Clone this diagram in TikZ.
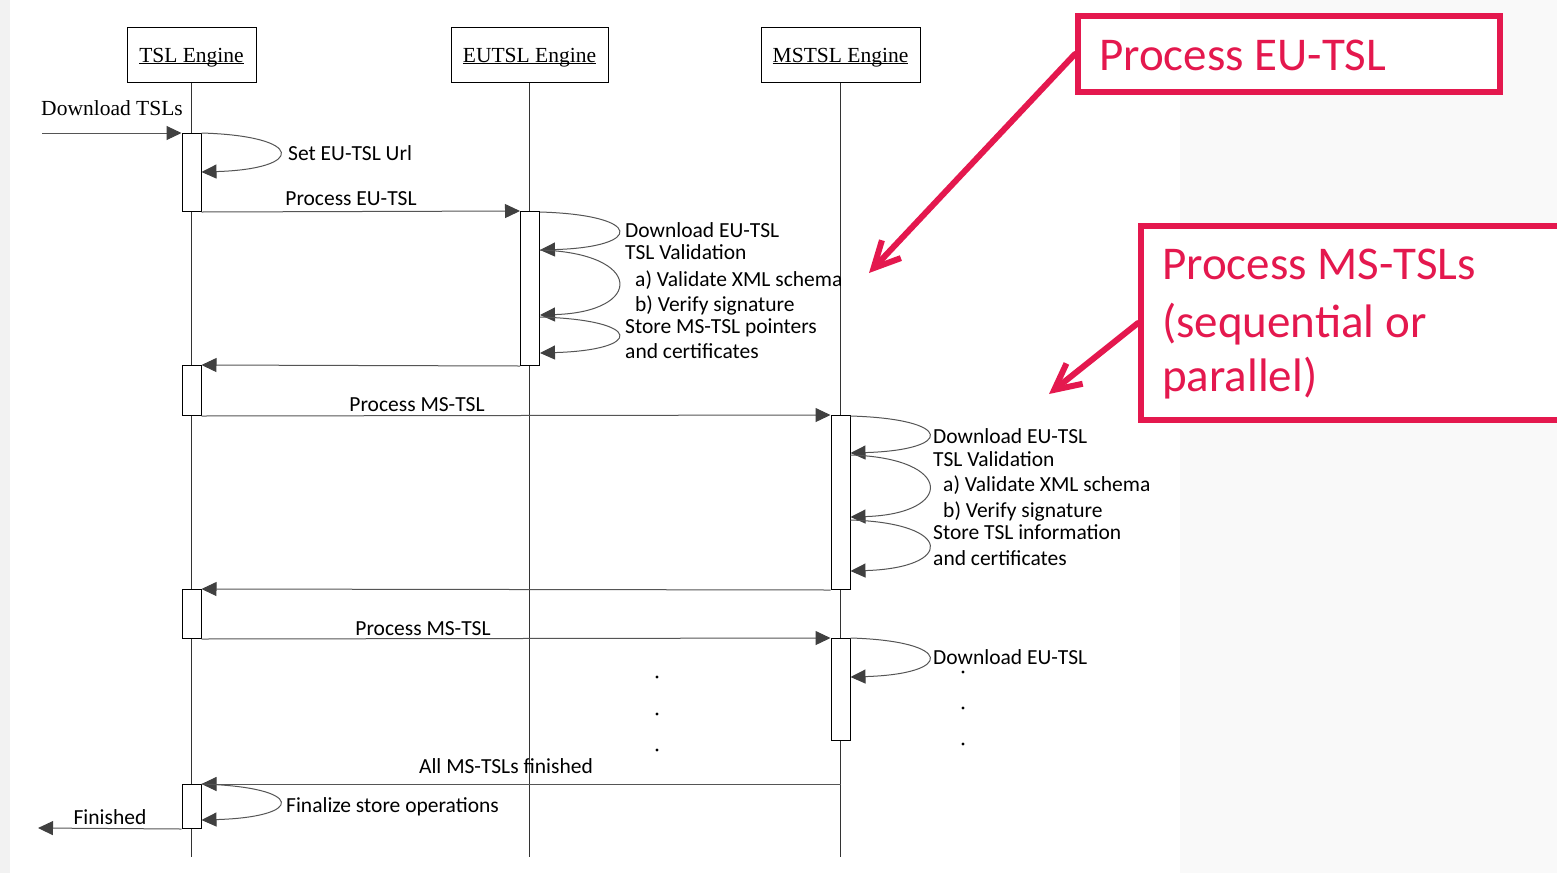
\documentclass[tikz,border=0pt]{standalone}
\usepackage{fontspec}
\setmainfont{Carlito}
\newfontfamily\serifface{Liberation Serif}
\usetikzlibrary{arrows.meta}
\definecolor{hl}{RGB}{228,24,78}
\definecolor{wire}{RGB}{85,85,85}
\definecolor{tipc}{RGB}{64,64,64}
\definecolor{panel}{RGB}{249,249,249}
\definecolor{edgestrip}{RGB}{242,242,242}

\begin{document}
\begin{tikzpicture}[x=1pt,y=-1pt,
  head/.style={draw=black, line width=1pt, fill=white, inner sep=0, text height=17pt, text depth=2pt,
    font=\serifface\fontsize{21.5pt}{24pt}\selectfont},
  act/.style={draw=black, line width=1pt, fill=white, minimum width=19pt, inner sep=0, anchor=north},
  life/.style={draw=black!80, line width=1pt},
  msg/.style={draw=wire, line width=1pt, -{Triangle[length=15pt,width=14pt,color=tipc]}},
  lbl/.style={inner sep=0, anchor=base west, font=\fontsize{21.5pt}{26pt}\selectfont},
  mlbl/.style={inner sep=0, anchor=base, font=\fontsize{21.5pt}{26pt}\selectfont},
  redbox/.style={draw=hl, line width=6pt, fill=white, inner sep=0},
  redtxt/.style={text=hl, inner sep=0, anchor=base west, font=\fontsize{47pt}{56pt}\selectfont},
  callout/.style={draw=hl, line width=6pt, line cap=round, -{Straight Barb[length=26pt,width=26pt]}}
]
% page and background panels
\fill[white] (0,0) rectangle (1557,873);
\fill[panel] (1180,0) rectangle (1557,873);
\fill[edgestrip] (0,0) rectangle (10,873);
\useasboundingbox (0,0) rectangle (1557,873);

% participants
\node[head, minimum width=129pt, minimum height=55pt] (tsl) at (191.5,54.5) {\underline{\smash{TSL Engine}}};
\node[head, minimum width=157pt, minimum height=55pt] (eu) at (529.5,54.5) {\underline{\smash{EUTSL Engine}}};
\node[head, minimum width=159pt, minimum height=55pt] (ms) at (840.5,54.5) {\underline{\smash{MSTSL Engine}}};

% lifelines
\coordinate (bottom) at (0,857);
\draw[life] (tsl.south) -- (tsl.south |- bottom);
\draw[life] (eu.south) -- (eu.south |- bottom);
\draw[life] (ms.south) -- (ms.south |- bottom);

% activations
\node[act, minimum height=78pt] (t1) at (191.5,133) {};
\node[act, minimum height=154pt] (e1) at (530,211) {};
\node[act, minimum height=50pt] (t2) at (191.5,365) {};
\node[act, minimum height=174pt] (m1) at (840.5,415) {};
\node[act, minimum height=49pt] (t3) at (191.5,589) {};
\node[act, minimum height=102pt] (m2) at (840.5,638) {};
\node[act, minimum height=44pt] (t4) at (191.5,784) {};

% incoming request
\coordinate (src) at (42,133);
\draw[msg] (src) -- (t1.north west);
\node[inner sep=0, anchor=base, font=\serifface\fontsize{21.5pt}{24pt}\selectfont] at (112,115) {Download TSLs};

% set EU-TSL URL
\draw[msg] (t1.north east) .. controls +(104,3) and +(104,-3) .. ([yshift=-39pt]t1.north east);
\node[lbl] at (288,160) {Set EU-TSL Url};

% EU-TSL processing
\draw[msg] (t1.south east) -- (e1.north west);
\node[mlbl] at (351,205) {Process EU-TSL};
\draw[msg] ([yshift=-1pt]e1.north east) .. controls +(104,3) and +(104,-3) .. ([yshift=-39pt]e1.north east);
\draw[msg] ([yshift=-39pt]e1.north east) .. controls +(104,3) and +(104,-3) .. ([yshift=-104pt]e1.north east);
\draw[msg] ([yshift=-106pt]e1.north east) .. controls +(104,3) and +(104,-3) .. ([yshift=-142pt]e1.north east);
\node[lbl] at (625,237) {Download EU-TSL};
\node[lbl] at (625,259) {TSL Validation};
\node[lbl] at (635,286) {a) Validate XML schema};
\node[lbl] at (635,311) {b) Verify signature};
\node[lbl] at (625,333) {Store MS-TSL pointers};
\node[lbl] at (625,358) {and certificates};
\draw[msg] (e1.south west) -- (t2.north east);

% first MS-TSL
\draw[msg] (t2.south east) -- (m1.north west);
\node[mlbl] at (417,411) {Process MS-TSL};
\draw[msg] ([yshift=-1pt]m1.north east) .. controls +(104,3) and +(104,-3) .. ([yshift=-38pt]m1.north east);
\draw[msg] ([yshift=-40pt]m1.north east) .. controls +(104,3) and +(104,-3) .. ([yshift=-102pt]m1.north east);
\draw[msg] ([yshift=-105pt]m1.north east) .. controls +(104,3) and +(104,-3) .. ([yshift=-156pt]m1.north east);
\node[lbl] at (933,443) {Download EU-TSL};
\node[lbl] at (933,466) {TSL Validation};
\node[lbl] at (943,491) {a) Validate XML schema};
\node[lbl] at (943,517) {b) Verify signature};
\node[lbl] at (933,539) {Store TSL information};
\node[lbl] at (933,565) {and certificates};
\draw[msg] (m1.south west) -- (t3.north east);

% next MS-TSL
\draw[msg] (t3.south east) -- (m2.north west);
\node[mlbl] at (423,635) {Process MS-TSL};
\draw[msg] (m2.north east) .. controls +(104,3) and +(104,-3) .. ([yshift=-39pt]m2.north east);
\node[lbl] at (933,664) {Download EU-TSL};

% ellipsis dots
\foreach \yy in {677,714,750} \fill (657,\yy) circle (1.6);
\foreach \yy in {672,708,744} \fill (963,\yy) circle (1.6);

% completion
\coordinate (allstart) at (m2.south |- t4.north);
\draw[msg] (allstart) -- (t4.north east);
\node[mlbl] at (506,773) {All MS-TSLs finished};
\draw[msg] (t4.north east) .. controls +(104,3) and +(104,-3) .. ([yshift=-36pt]t4.north east);
\node[lbl] at (286,812) {Finalize store operations};
\coordinate (fin) at (38,828);
\draw[msg] (t4.south west) -- (fin);
\node[mlbl] at (110,824) {Finished};

% callouts
\node[redbox, minimum width=422pt, minimum height=76pt] (eubox) at (1289,54) {};
\node[redtxt] at (1099,70) {Process EU-TSL};
\coordinate (eutip) at (869,273);
\draw[callout] (eubox.west) -- (eutip);

\node[redbox, minimum width=459pt, minimum height=194pt] (msbox) at (1370.5,323) {};
\node[redtxt] at (1162,279) {Process MS-TSLs};
\node[redtxt] at (1162,337) {(sequential or};
\node[redtxt] at (1162,391) {parallel)};
\coordinate (mstip) at (1049,394);
\draw[callout] (msbox.west) -- (mstip);
\end{tikzpicture}
\end{document}
